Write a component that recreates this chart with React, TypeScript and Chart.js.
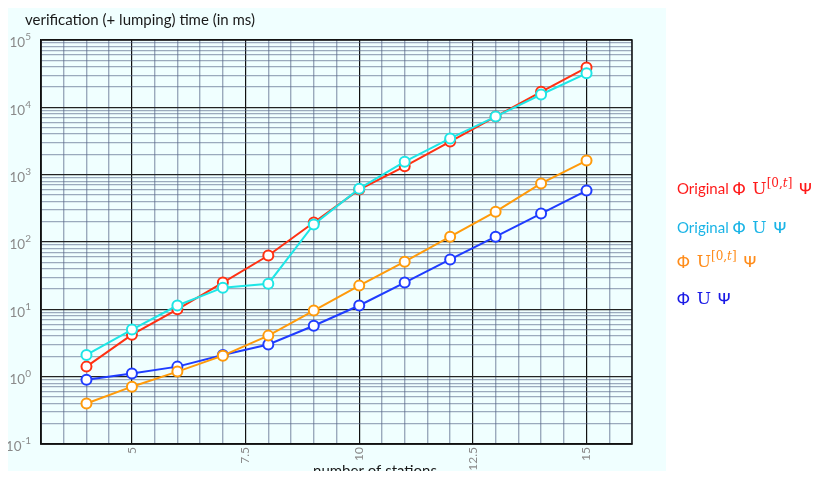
import React, { useEffect, useRef } from "react";
import { Chart, registerables } from "chart.js";

Chart.register(...registerables);

const stations = [4, 5, 6, 7, 8, 9, 10, 11, 12, 13, 14, 15];
const origUntil = [1.41, 4.2, 10, 25, 63, 195, 600, 1330, 3100, 7300, 17000, 39000];
const origU = [2.1, 5.0, 11.4, 21, 24, 182, 620, 1560, 3450, 7300, 15500, 32000];
const lumpUntil = [0.4, 0.71, 1.19, 2.05, 4.07, 9.6, 22.5, 51, 120, 282, 740, 1620];
const lumpU = [0.9, 1.11, 1.41, 2.1, 3.0, 5.7, 11.4, 25, 55, 120, 264, 580];

const xTickLabels = [5, 7.5, 10, 12.5, 15];
const yDecades = [-1, 0, 1, 2, 3, 4, 5];

const FONT = "Lato, 'DejaVu Sans', sans-serif";
const SERIF = "'DejaVu Serif', 'Liberation Serif', serif";

const toPts = (vals: number[]) => stations.map((s, i) => ({ x: s, y: vals[i] }));

export default function App() {
  const ref = useRef<HTMLCanvasElement | null>(null);

  useEffect(() => {
    document.documentElement.style.overflow = "hidden";
    const canvas = ref.current!;
    const deco = {
      id: "deco",
      beforeDraw(chart: any) {
        const c = chart.ctx;
        c.save();
        c.fillStyle = "#f0ffff";
        c.fillRect(0, 0, 658, chart.height);
        c.restore();
      },
      afterDraw(chart: any) {
        const c = chart.ctx;
        const a = chart.chartArea;
        c.save();
        c.strokeStyle = "#111";
        c.lineWidth = 1.5;
        c.strokeRect(a.left, a.top, a.right - a.left, a.bottom - a.top);
        // y labels
        const ys = chart.scales.y;
        c.fillStyle = "#8a8a8a";
        for (const e of yDecades) {
          const py = ys.getPixelForValue(Math.pow(10, e));
          const exp = String(e);
          c.font = `10px ${FONT}`;
          const we = c.measureText(exp).width;
          c.font = `13.5px ${FONT}`;
          const wb = c.measureText("10").width;
          const right = 23;
          c.textBaseline = "middle";
          c.textAlign = "left";
          c.fillText("10", right - we - wb, py + 3);
          c.font = `10px ${FONT}`;
          c.fillText(exp, right - we, py - 3);
        }
        // title
        c.fillStyle = "#1a1a1a";
        c.font = `15px ${FONT}`;
        c.textAlign = "left";
        c.textBaseline = "middle";
        c.fillText("verification (+ lumping) time (in ms)", 17, 12);
        // x title
        c.textAlign = "center";
        c.textBaseline = "top";
        c.fillText("number of stations", 367, 456);
        c.restore();
      },
    };

    const ds = (label: string, vals: number[], color: string) => ({
      label,
      data: toPts(vals),
      borderColor: color,
      backgroundColor: "#ffffff",
      pointBackgroundColor: "#ffffff",
      pointBorderColor: color,
      pointRadius: 5,
      pointBorderWidth: 2,
      borderWidth: 2,
      tension: 0,
    });

    const chart = new Chart(canvas, {
      type: "line",
      data: {
        datasets: [
          ds("Original Φ U Ψ", origU, "#1ee6e6"),
          ds("Original Φ U[0,t] Ψ", origUntil, "#ff3012"),
          ds("Φ U[0,t] Ψ", lumpUntil, "#ff9a0a"),
          ds("Φ U Ψ", lumpU, "#1f3cff"),
        ],
      },
      options: {
        animation: false,
        responsive: false,
        events: [],
        layout: { padding: { top: 32, right: 188, left: 0, bottom: 0 } },
        plugins: { legend: { display: false }, tooltip: { enabled: false }, title: { display: false } },
        scales: {
          x: {
            type: "linear",
            min: 3,
            max: 16,
            afterBuildTicks: (s: any) => {
              const t = [];
              for (let v = 3; v <= 16.001; v += 0.5) t.push({ value: Math.round(v * 10) / 10 });
              s.ticks = t;
            },
            afterFit: (s: any) => {
              s.height = 44;
            },
            ticks: {
              autoSkip: false,
              minRotation: 90,
              maxRotation: 90,
              padding: 3,
              color: "#8a8a8a",
              font: { family: FONT, size: 12 },
              callback: (v: any) => (xTickLabels.includes(Number(v)) ? String(v) : ""),
            },
            grid: {
              drawTicks: false,
              color: (ctx: any) =>
                ctx.tick && xTickLabels.includes(ctx.tick.value) ? "#111" : "rgba(85,100,135,0.55)",
              lineWidth: (ctx: any) => (ctx.tick && xTickLabels.includes(ctx.tick.value) ? 1.2 : 1.4),
            },
            border: { display: true, color: "#111", width: 1.5 },
          },
          y: {
            type: "logarithmic",
            min: 0.1,
            max: 100000,
            afterBuildTicks: (s: any) => {
              const t = [];
              for (let e = -1; e <= 4; e++) {
                for (let m = 1; m <= 9; m++) t.push({ value: m * Math.pow(10, e) });
              }
              t.push({ value: 100000 });
              s.ticks = t;
            },
            afterFit: (s: any) => {
              s.width = 33;
            },
            ticks: { display: false, autoSkip: false },
            grid: {
              drawTicks: false,
              color: (ctx: any) => {
                const v = ctx.tick ? ctx.tick.value : 0;
                const l = Math.log10(v);
                return Math.abs(l - Math.round(l)) < 1e-6 ? "#222" : "rgba(85,100,135,0.55)";
              },
              lineWidth: 1.3,
            },
            border: { display: true, color: "#111", width: 1.5 },
          },
        },
      },
      plugins: [deco],
    } as any);
    return () => chart.destroy();
  }, []);

  const leg = (color: string, orig: boolean, until: boolean, top: number) => (
    <div
      style={{
        position: "absolute",
        left: 669,
        top,
        width: 143,
        height: 20,
        color,
        fontFamily: FONT,
        fontSize: 15,
        whiteSpace: "nowrap",
        lineHeight: "20px",
      }}
    >
      {orig ? <span style={{ marginRight: 4 }}>Original</span> : null}
      <span style={{ fontWeight: 600 }}>Φ</span>
      <span style={{ fontFamily: SERIF, fontSize: 17, marginLeft: 7 }}>U</span>
      {until ? (
        <span
          style={{
            fontFamily: SERIF,
            fontSize: 12,
            position: "relative",
            top: -7,
          }}
        >
          [0,<i>t</i>]
        </span>
      ) : null}
      <span style={{ fontWeight: 600, marginLeft: 7 }}>Ψ</span>
    </div>
  );

  return (
    <div style={{ position: "relative", width: 812, height: 463 }}>
      <canvas ref={ref} width={812} height={480} style={{ position: "absolute", left: 0, top: 0 }} />
      {leg("#ff1a1a", true, true, 170)}
      {leg("#1ab4e6", true, false, 209)}
      {leg("#ff8c1a", false, true, 243)}
      {leg("#1a1ae6", false, false, 280)}
    </div>
  );
}
